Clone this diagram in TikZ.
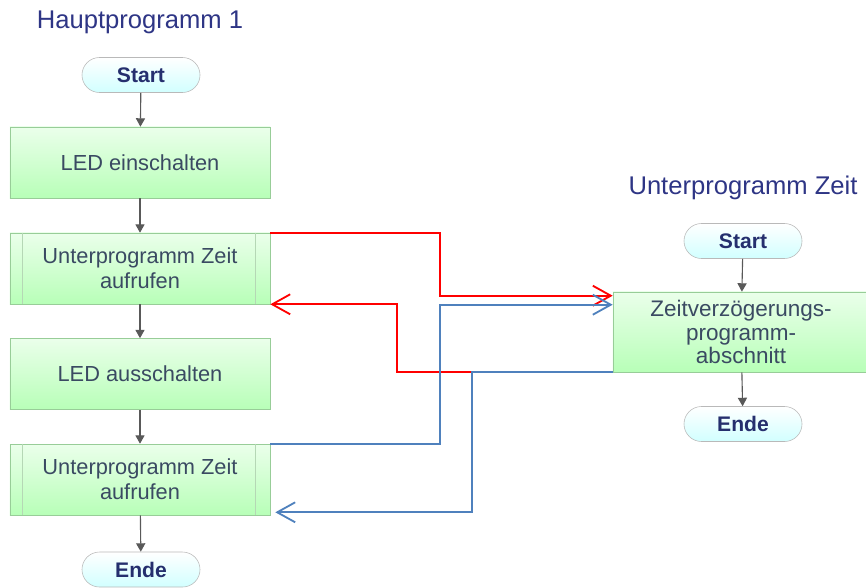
\documentclass[tikz,border=0pt]{standalone}
\usepackage{fontspec}
\setmainfont{Liberation Sans}
\usepackage{tikz}
\usetikzlibrary{arrows.meta, positioning, calc}
\definecolor{titleblue}{HTML}{2E3585}
\definecolor{boxtext}{HTML}{3A4A62}
\definecolor{pilltext}{HTML}{252F6E}
\definecolor{callred}{HTML}{FF0000}
\definecolor{callblue}{HTML}{4F81BD}

\begin{document}
\begin{tikzpicture}[
        x=0.025cm, y=-0.025cm,
        heading/.style={font=\fontsize{18.2}{20}\selectfont, text=titleblue},
        pill/.style={rectangle, rounded corners=0.4375cm, draw=gray!55, top color=white, bottom color=cyan!18,
                     minimum width=2.95cm, minimum height=0.875cm, inner sep=0pt,
                     font=\fontsize{15}{17}\selectfont\bfseries, text=pilltext},
        action/.style={rectangle, draw=green!35!gray!60, top color=green!8, bottom color=green!28,
                       minimum width=6.5cm, minimum height=1.775cm, inner sep=2pt, align=center,
                       font=\fontsize{15.5}{18}\selectfont, text=boxtext},
        flow/.style={draw=gray!70!black, thick, -{Triangle[length=6pt, width=6.5pt]}},
        call/.style={line width=1.3pt, -{Straight Barb[length=0.45cm, width=0.5cm]}}
    ]
        \useasboundingbox (0,0) rectangle (866,587);

        % Hauptprogramm
        \node[heading] (h1) at (140,22) {Hauptprogramm 1};
        \node[pill] (s1) at (141,75) {Start};
        \node[action] (led1) at (140,162.5) {LED einschalten};
        \node[action] (up1) at (140,268.5) {Unterprogramm Zeit\\aufrufen};
        \node[action] (led2) at (140,374) {LED ausschalten};
        \node[action] (up2) at (140,479.5) {Unterprogramm Zeit\\aufrufen};
        \node[pill] (e1) at (141,569.5) {Ende};

        % Unterprogramm-Markierung
        \foreach \n in {up1, up2} {
            \draw[green!30!gray!45] ([xshift=0.325cm]\n.north west) -- ([xshift=0.325cm]\n.south west);
            \draw[green!30!gray!45] ([xshift=-0.375cm]\n.north east) -- ([xshift=-0.375cm]\n.south east);
        }

        \draw[flow] (s1) -- (led1);
        \draw[flow] (led1) -- (up1);
        \draw[flow] (up1) -- (led2);
        \draw[flow] (led2) -- (up2);
        \draw[flow] (up2) -- (e1);

        % Unterprogramm Zeit
        \node[heading] (h2) at (743,188) {Unterprogramm Zeit};
        \node[pill] (s2) at (743,241) {Start};
        \node[action, minimum width=6.4cm, minimum height=2cm, font=\fontsize{16}{17}\selectfont] (zeit) at (741,332)
            {Zeitverzögerungs-\\programm-\\abschnitt};
        \node[pill] (e2) at (743,424) {Ende};
        \draw[flow] (s2) -- (zeit);
        \draw[flow] (zeit) -- (e2);

        % Aufrufe
        \coordinate (hin) at (440,0);
        \coordinate (rotzur) at (397,0);
        \coordinate (blauzur) at (472,0);
        \draw[call, callred] (up1.north east) -- (up1.north east -| hin) |- ([yshift=-0.1cm]zeit.north west);
        \draw[call, callred] (zeit.south west) -- (zeit.south west -| rotzur) |- (up1.south east);
        \draw[call, callblue] (up2.north east) -- (up2.north east -| hin) |- ([yshift=-0.325cm]zeit.north west);
        \draw[call, callblue] (zeit.south west) -- (zeit.south west -| blauzur) |- ([xshift=0.125cm, yshift=0.075cm]up2.south east);
    \end{tikzpicture}
\end{document}
